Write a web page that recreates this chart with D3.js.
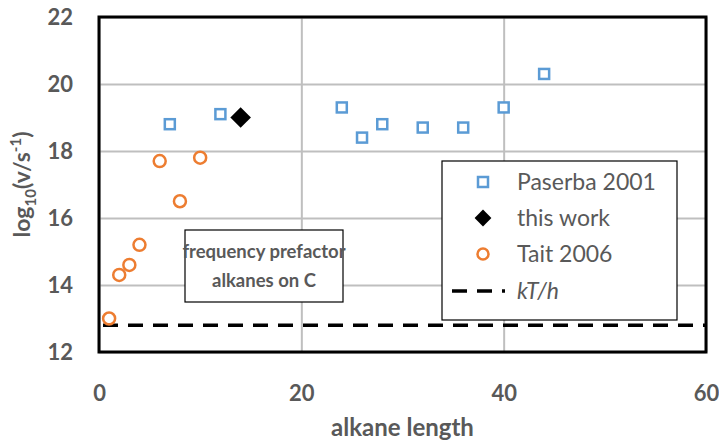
<!DOCTYPE html>
<meta charset="utf-8">
<script src="https://d3js.org/d3.v7.min.js"></script>
<style>
body { margin: 0; background: #fff; }
text { font-family: Lato, "Open Sans", sans-serif; fill: #595959; }
.tick text { font-size: 22px; font-weight: bold; }
.axis path, .axis line { display: none; }
.grid line { stroke: #bfbfbf; stroke-width: 2px; }
.grid path { display: none; }
</style>
<body>
<div id="chart"></div>
<script>
// ---- data ----
const paserbaX = [7, 12, 24, 26, 28, 32, 36, 40, 44];
const paserbaY = [18.8, 19.1, 19.3, 18.4, 18.8, 18.7, 18.7, 19.3, 20.3];
const thisWorkX = [14];
const thisWorkY = [19.0];
const taitX = [1, 2, 3, 4, 6, 8, 10];
const taitY = [13.0, 14.3, 14.6, 15.2, 17.7, 16.5, 17.8];
const kTh = 12.8;
const xTicks = [0, 20, 40, 60];
const yTicks = [12, 14, 16, 18, 20, 22];
const legendNames = ["Paserba 2001", "this work", "Tait 2006", "kT/h"];

const width = 719, height = 444;
const margin = {top: 17, right: 13, bottom: 92, left: 99};

const svg = d3.select("#chart").append("svg")
  .attr("width", width)
  .attr("height", height);

const x = d3.scaleLinear().domain([0, 60]).range([margin.left, width - margin.right]);
const y = d3.scaleLinear().domain([12, 22]).range([height - margin.bottom, margin.top]);

// gridlines
svg.append("g").attr("class", "grid")
  .attr("transform", "translate(0," + (height - margin.bottom) + ")")
  .call(d3.axisBottom(x).tickValues(xTicks).tickSize(-(height - margin.top - margin.bottom)).tickFormat(""));
svg.append("g").attr("class", "grid")
  .attr("transform", "translate(" + margin.left + ",0)")
  .call(d3.axisLeft(y).tickValues(yTicks).tickSize(-(width - margin.left - margin.right)).tickFormat(""));

// axes labels
svg.append("g").attr("class", "axis")
  .attr("transform", "translate(0," + (height - margin.bottom) + ")")
  .call(d3.axisBottom(x).tickValues(xTicks).tickSize(0).tickPadding(33));
svg.append("g").attr("class", "axis")
  .attr("transform", "translate(" + margin.left + ",0)")
  .call(d3.axisLeft(y).tickValues(yTicks).tickSize(0).tickPadding(26));

// kT/h dashed line
svg.append("line")
  .attr("x1", x(0)).attr("x2", x(60))
  .attr("y1", y(kTh)).attr("y2", y(kTh))
  .attr("stroke", "#000").attr("stroke-width", 3.5)
  .attr("stroke-dasharray", "15 10")
  .attr("stroke-dashoffset", -4);

// plot border
svg.append("rect")
  .attr("x", x(0)).attr("y", y(22))
  .attr("width", x(60) - x(0)).attr("height", y(12) - y(22))
  .attr("fill", "none").attr("stroke", "#000").attr("stroke-width", 3);

// text box
const tb = svg.append("g");
tb.append("rect")
  .attr("x", 185).attr("y", 230).attr("width", 158).attr("height", 72)
  .attr("fill", "#fff").attr("stroke", "#000").attr("stroke-width", 1.2);
tb.append("text").attr("x", 264).attr("y", 258).attr("text-anchor", "middle")
  .style("font-size", "18.5px").style("font-weight", "bold").text("frequency prefactor");
tb.append("text").attr("x", 264).attr("y", 287).attr("text-anchor", "middle")
  .style("font-size", "18.5px").style("font-weight", "bold").text("alkanes on C");

// series
const paserba = paserbaX.map((d, i) => ({x: d, y: paserbaY[i]}));
const thisWork = thisWorkX.map((d, i) => ({x: d, y: thisWorkY[i]}));
const tait = taitX.map((d, i) => ({x: d, y: taitY[i]}));

svg.selectAll(".pas").data(paserba).enter().append("rect")
  .attr("class", "pas")
  .attr("x", d => x(d.x) - 5).attr("y", d => y(d.y) - 5)
  .attr("width", 10).attr("height", 10)
  .attr("fill", "#fff").attr("stroke", "#5b9bd5").attr("stroke-width", 2.5);

svg.selectAll(".tait").data(tait).enter().append("circle")
  .attr("class", "tait")
  .attr("cx", d => x(d.x)).attr("cy", d => y(d.y)).attr("r", 6)
  .attr("fill", "none").attr("stroke", "#ed7d31").attr("stroke-width", 2.5);

const diamond = d3.symbol().type(d3.symbolDiamond2).size(270);
svg.selectAll(".tw").data(thisWork).enter().append("path")
  .attr("class", "tw")
  .attr("transform", d => "translate(" + x(d.x) + "," + y(d.y) + ")")
  .attr("d", diamond).attr("fill", "#000");

// legend
const lg = svg.append("g");
lg.append("rect")
  .attr("x", 442).attr("y", 161).attr("width", 235).attr("height", 159)
  .attr("fill", "#fff").attr("stroke", "#000").attr("stroke-width", 1.2);
const ly = [182, 218, 254, 291];
lg.append("rect").attr("x", 478).attr("y", ly[0] - 5).attr("width", 10).attr("height", 10)
  .attr("fill", "#fff").attr("stroke", "#5b9bd5").attr("stroke-width", 2.5);
lg.append("path").attr("transform", "translate(483," + ly[1] + ")")
  .attr("d", d3.symbol().type(d3.symbolDiamond2).size(180)).attr("fill", "#000");
lg.append("circle").attr("cx", 483).attr("cy", ly[2]).attr("r", 5.5)
  .attr("fill", "none").attr("stroke", "#ed7d31").attr("stroke-width", 2.5);
lg.append("line").attr("x1", 452).attr("x2", 505).attr("y1", ly[3]).attr("y2", ly[3])
  .attr("stroke", "#000").attr("stroke-width", 3.5).attr("stroke-dasharray", "15 10");
legendNames.forEach((n, i) => {
  lg.append("text").attr("x", 517).attr("y", ly[i] + 8)
    .style("font-size", "23px")
    .style("font-style", i === 3 ? "italic" : "normal")
    .text(n);
});

// axis titles
svg.append("text")
  .attr("x", (x(0) + x(60)) / 2).attr("y", 436)
  .attr("text-anchor", "middle")
  .style("font-size", "24px").style("font-weight", "bold")
  .text("alkane length");

const yt = svg.append("text")
  .attr("transform", "translate(30," + ((y(12) + y(22)) / 2) + ") rotate(-90)")
  .attr("text-anchor", "middle")
  .style("font-size", "23px").style("font-weight", "bold");
yt.append("tspan").text("log");
yt.append("tspan").attr("dy", 6).style("font-size", "15px").text("10");
yt.append("tspan").attr("dy", -6).text("(v/s");
yt.append("tspan").attr("dy", -9).style("font-size", "15px").text("-1");
yt.append("tspan").attr("dy", 9).text(")");
</script>
</body>
